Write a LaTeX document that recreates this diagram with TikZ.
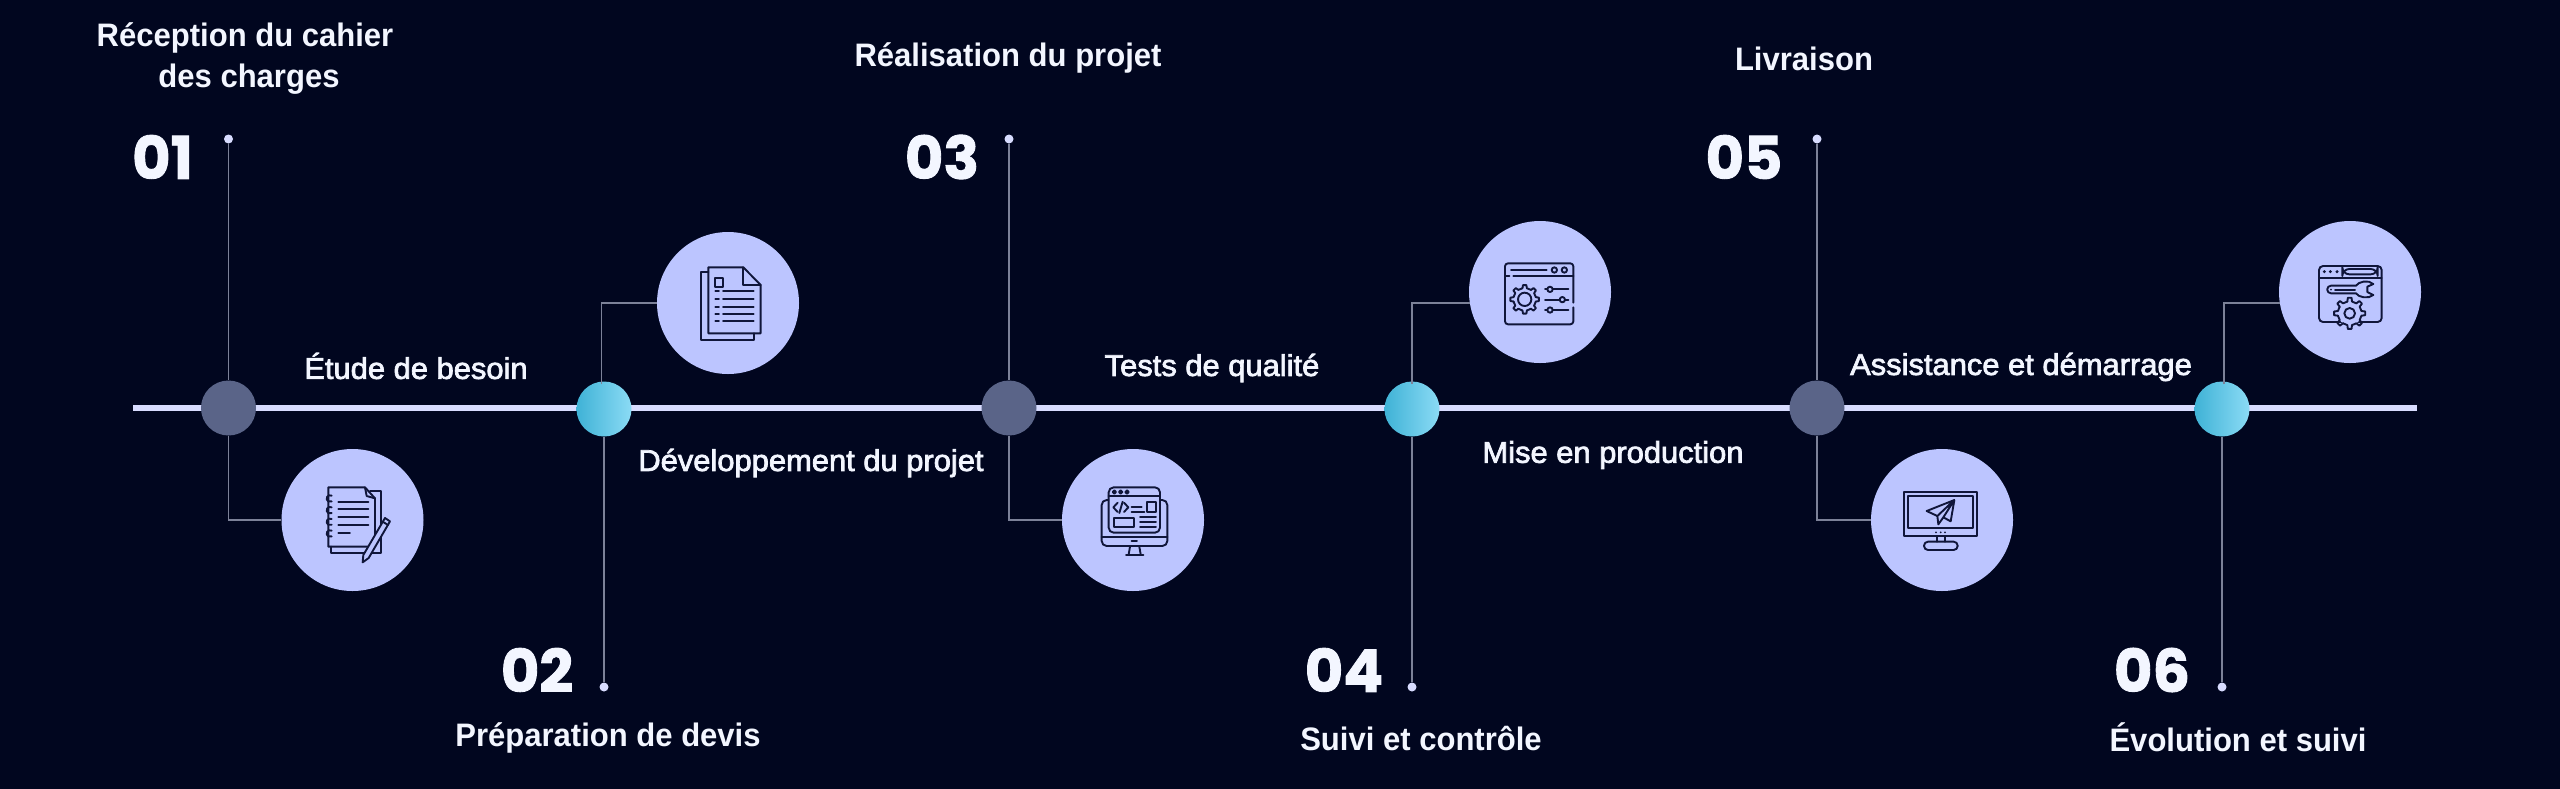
\documentclass[tikz,border=0pt]{standalone}
\usepackage{fontspec}
\setmainfont{Liberation Sans}
\newfontfamily\titlefont[FakeStretch=0.955]{Liberation Sans Bold}
\newfontfamily\labelfont[FakeStretch=1.03,FakeBold=2.4]{Liberation Sans}
\newfontfamily\numfont[BoldFeatures={FakeBold=1.5}]{Poppins}
\definecolor{bgc}{HTML}{01061F}
\definecolor{disc}{HTML}{BCC5FF}
\definecolor{railc}{HTML}{D8DCFF}
\definecolor{slate}{HTML}{5A6488}
\definecolor{conn}{HTML}{7C8198}
\definecolor{ink}{HTML}{10163A}
\definecolor{paper}{HTML}{F3F6FF}
\definecolor{cyanL}{HTML}{3FB2D6}
\definecolor{cyanR}{HTML}{8BDBF5}
\tikzset{
  iconbox/.style={circle,fill=disc,inner sep=0pt,minimum size=142pt},
  darkmark/.style={circle,fill=slate,inner sep=0pt,minimum size=55pt},
  cyanmark/.style={circle,left color=cyanL,right color=cyanR,inner sep=0pt,minimum size=55pt},
  enddot/.style={circle,fill=railc,inner sep=0pt,minimum size=9pt},
  connector/.style={draw=conn,line width=1.5pt},
  titletxt/.style={text=paper,align=center,inner sep=0pt,font={\titlefont\fontsize{32.5}{41}\selectfont}},
  labeltxt/.style={text=paper,align=center,inner sep=0pt,font={\labelfont\fontsize{30}{36}\selectfont}},
  numtxt/.style={text=paper,inner sep=0pt,font={\numfont\bfseries\fontsize{59}{60}\selectfont}},
  iconline/.style={draw=ink,line width=1.9pt,line join=round,line cap=round},
  icon/.style={shift={#1},scale=0.33333,every path/.append style={iconline}}
}
\newcommand{\gearshape}[5]{%
  \begin{scope}[shift={(#1,#2)}]
    \fill[disc,draw=none] (0,0) circle[radius=#4];
    \foreach \i in {1,...,#5}{
      \pgfmathsetmacro\aa{\i*360/#5}
      \pgfmathsetmacro\ww{90/#5}
      \draw ({\aa-\ww}:#4) -- ({\aa-0.6*\ww}:#3) -- ({\aa+0.6*\ww}:#3) -- ({\aa+\ww}:#4)
        arc[start angle={\aa+\ww},end angle={\aa+3*\ww},radius=#4];
    }
  \end{scope}}
\begin{document}
\begin{tikzpicture}[x=1pt,y=-1pt]
\useasboundingbox (0,0) rectangle (2560,788);
\fill[bgc] (-5,-5) rectangle (2565,793);
% rail
\coordinate (railL) at (133,408);
\coordinate (railR) at (2417,408);
\draw[railc,line width=6.5pt] (railL) -- (railR);
% marks
\node[darkmark] (m1) at (228.5,408) {};
\node[cyanmark] (m2) at (604,409) {};
\node[darkmark] (m3) at (1009,408) {};
\node[cyanmark] (m4) at (1412,409) {};
\node[darkmark] (m5) at (1817,408) {};
\node[cyanmark] (m6) at (2222,409) {};
% end dots
\node[enddot] (d1) at (228.5,139) {};
\node[enddot] (d2) at (604,687) {};
\node[enddot] (d3) at (1009,139) {};
\node[enddot] (d4) at (1412,687) {};
\node[enddot] (d5) at (1817,139) {};
\node[enddot] (d6) at (2222,687) {};
% icon discs
\node[iconbox] (c1) at (352.5,520) {};
\node[iconbox] (c2) at (728,303) {};
\node[iconbox] (c3) at (1133,520) {};
\node[iconbox] (c4) at (1540,292) {};
\node[iconbox] (c5) at (1942,520) {};
\node[iconbox] (c6) at (2350,292) {};
% connectors
\draw[connector] (d1) -- (m1.north);
\draw[connector] (m1.south) |- (c1.west);
\draw[connector] (d2) -- (m2.south);
\coordinate (k2) at (601.5,384);
\draw[connector] (k2) |- (c2.west);
\draw[connector] (d3) -- (m3.north);
\draw[connector] (m3.south) |- (c3.west);
\draw[connector] (d4) -- (m4.south);
\coordinate (k4) at (1412,384);
\draw[connector] (k4) |- (c4.189);
\draw[connector] (d5) -- (m5.north);
\draw[connector] (m5.south) |- (c5.west);
\draw[connector] (d6) -- (m6.south);
\coordinate (k6) at (2224,384);
\draw[connector] (k6) |- (c6.189);
% numbers
\node[numtxt] (n1) at (162.5,157) {01};
\node[numtxt] (n2) at (537,670) {02};
\node[numtxt] (n3) at (942,157) {03};
\node[numtxt] (n4) at (1344,670) {04};
\node[numtxt] (n5) at (1744,157) {05};
\node[numtxt] (n6) at (2152,670) {06};
% titles
\node[titletxt] (t1) at (245,59) {Réception du cahier\\\hspace*{8pt}des charges};
\node[titletxt] (t2) at (608,738) {Préparation de devis};
\node[titletxt] (t3) at (1008,58) {Réalisation du projet};
\node[titletxt] (t4) at (1421,739) {Suivi et contrôle};
\node[titletxt] (t5) at (1804,59) {Livraison};
\node[titletxt] (t6) at (2238,737.5) {Évolution et suivi};
% labels
\node[labeltxt] (l1) at (416,366) {Étude de besoin};
\node[labeltxt] (l2) at (811,463) {Développement du projet};
\node[labeltxt] (l3) at (1212,368) {Tests de qualité};
\node[labeltxt] (l4) at (1613,455) {Mise en production};
\node[labeltxt] (l5) at (2021,367) {Assistance et démarrage};
% icon 1: notebook
\begin{scope}[icon={(260,430)}]
  \draw (330,183) -- (362,183) -- (362,368) -- (212,368) -- (212,350);
  \draw (205,172) -- (315,172) -- (345,205) -- (345,350) -- (205,350) -- cycle;
  \draw (315,172) -- (320,198) -- (345,205);
  \foreach \yy in {215,238,262,285} \draw (235,\yy) -- (325,\yy);
  \draw (235,308) -- (270,308);
  \foreach \yy in {205,240,275,310} \draw (215,\yy-8) arc[start angle=-60,end angle=-300,radius=10];
  \fill[disc,draw=ink] (375,264) -- (390,274) -- (326,384) -- (308,397) -- (310,375) -- cycle;
  \draw (368,275) -- (384,285);
\end{scope}
% icon 2: documents
\begin{scope}[icon={(640,220)}]
  \draw (205,156) -- (182,156) -- (182,360) -- (342,360) -- (342,340);
  \draw (205,142) -- (310,142) -- (362,195) -- (362,340) -- (205,340) -- cycle;
  \draw (310,142) -- (310,195) -- (362,195);
  \draw (226,175) rectangle (250,200);
  \foreach \yy in {214,237,260,282,304}{
    \draw (226,\yy) -- (237,\yy);
    \draw (249,\yy) -- (341,\yy);
  }
\end{scope}
% icon 3: monitor with code
\begin{scope}[icon={(1050,430)}]
  \draw[rounded corners=5pt] (175,210) -- (155,210) -- (155,348) -- (352,348) -- (352,210) -- (330,210);
  \draw (155,322) -- (176,322) (330,322) -- (352,322) (176,322) -- (330,322);
  \draw[rounded corners=5pt] (176,172) rectangle (330,308);
  \draw (176,198) -- (330,198);
  \foreach \xx in {193,212,231} \draw (\xx,186) circle[radius=5];
  \draw (203,218) -- (190,232) -- (203,246);
  \draw (222,218) -- (235,232) -- (222,246);
  \draw (218,215) -- (208,249);
  \draw (245,232) -- (275,232) (245,245) -- (283,245);
  \draw (292,216) rectangle (317,246);
  \draw (193,263) rectangle (252,291);
  \foreach \yy in {262,277,291} \draw (270,\yy) -- (318,\yy);
  \draw (245,333) -- (261,333);
  \draw (240,350) -- (236,373) (268,350) -- (272,373) (228,375) -- (280,375);
\end{scope}
% icon 4: window with gear and sliders
\begin{scope}[icon={(1450,210)}]
  \draw[rounded corners=3pt] (370,278) -- (370,160) -- (165,160) -- (165,343) -- (370,343) -- (370,292);
  \draw (165,198) -- (178,198) (190,198) -- (370,198);
  \draw (183,180) -- (290,180);
  \draw (313,180) circle[radius=8] (343,180) circle[radius=8];
  \gearshape{224}{268}{43}{34}{8}
  \draw (224,268) circle[radius=20];
  \foreach \xx/\yy in {300/238,337/269,300/300}{
    \draw (285,\yy) -- (355,\yy);
    \fill[disc,draw=ink] (\xx,\yy) circle[radius=8];
  }
\end{scope}
% icon 5: monitor with paper plane
\begin{scope}[icon={(1850,430)}]
  \draw (163,186) rectangle (380,319);
  \draw (175,198) rectangle (368,295);
  \foreach \xx in {258,272,285} \fill[ink,draw=none] (\xx,307) circle[radius=3];
  \draw (262,319) -- (262,335) (285,319) -- (285,335);
  \draw[rounded corners=4pt] (222,360) -- (222,335) -- (323,335) -- (323,360) -- cycle;
  \draw (313,210) -- (230,243) -- (262,258) -- (313,210) -- (302,274) -- (280,262) -- (313,210);
  \draw (262,258) -- (265,283) -- (280,262);
\end{scope}
% icon 6: window with wrench and gear
\begin{scope}[icon={(2260,210)}]
  \draw[rounded corners=4pt] (177,168) rectangle (365,336);
  \draw (177,203) -- (365,203);
  \foreach \xx in {193,211,231} \fill[ink,draw=none] (\xx,185) circle[radius=5];
  \draw[rounded corners=7pt] (247,177) rectangle (353,193);
  \draw (213,227) -- (288,227) .. controls (295,215) and (325,208) .. (340,222) -- (322,230) -- (322,246) -- (340,255) .. controls (325,268) and (295,262) .. (288,250) -- (213,250) arc[start angle=90,end angle=270,radius=11.5];
  \draw (225,239) -- (285,239);
  \fill[ink,draw=none] (213,239) circle[radius=3];
  \gearshape{269}{310}{47}{36}{8}
  \draw (269,310) circle[radius=16];
\end{scope}
\end{tikzpicture}
\end{document}
